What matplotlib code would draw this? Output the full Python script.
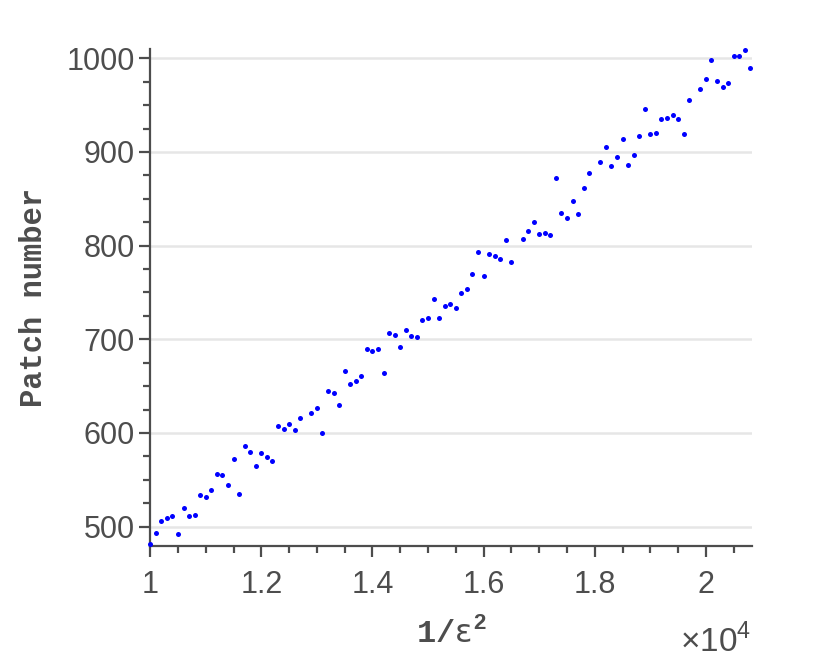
import numpy as np
import matplotlib
matplotlib.use("Agg")
from matplotlib import pyplot as plt
from matplotlib.ticker import MultipleLocator, FuncFormatter

# ---------------------------------------------------------------------------
# Data; x in units of 1/eps^2
# ---------------------------------------------------------------------------
inv_eps2 = [
    10000, 10100, 10200, 10300, 10400, 10500, 10600, 10700, 10800, 10900,
    11000, 11100, 11200, 11300, 11400, 11500, 11600, 11700, 11800, 11900,
    12000, 12100, 12200, 12300, 12400, 12500, 12600, 12700, 12900, 13000,
    13100, 13200, 13300, 13400, 13500, 13600, 13700, 13800, 13900, 14000,
    14100, 14200, 14300, 14400, 14500, 14600, 14700, 14800, 14900, 15000,
    15100, 15200, 15300, 15400, 15500, 15600, 15700, 15800, 15900, 16000,
    16100, 16200, 16300, 16400, 16500, 16700, 16800, 16900, 17000, 17100,
    17200, 17300, 17400, 17500, 17600, 17700, 17800, 17900, 18100, 18200,
    18300, 18400, 18500, 18600, 18700, 18800, 18900, 19000, 19100, 19200,
    19300, 19400, 19500, 19600, 19700, 19900, 20000, 20100, 20200, 20300,
    20400, 20500, 20600, 20700, 20800,
]
patch_number = [
    481, 493, 506, 509, 511, 492, 520, 511, 512, 534,
    532, 539, 556, 555, 544, 572, 535, 586, 580, 565,
    579, 574, 570, 607, 604, 610, 603, 616, 621, 627,
    600, 645, 643, 630, 666, 652, 655, 661, 690, 688,
    690, 664, 707, 705, 692, 710, 703, 702, 721, 723,
    743, 723, 735, 738, 733, 749, 754, 770, 793, 768,
    791, 789, 786, 806, 783, 807, 816, 825, 812, 813,
    811, 872, 835, 829, 848, 834, 861, 878, 889, 905,
    885, 895, 914, 886, 897, 917, 946, 919, 920, 935,
    936, 939, 935, 919, 955, 967, 978, 998, 976, 969,
    974, 1002, 1002, 1009, 990,
]

y_ticks = [500, 600, 700, 800, 900, 1000]
x_ticks = [10000, 12000, 14000, 16000, 18000, 20000]

# ---------------------------------------------------------------------------
# Style
# ---------------------------------------------------------------------------
AXIS_COLOR = "#4d4d4d"
GRID_COLOR = "#e6e6e6"

plt.rcParams["font.family"] = ["Liberation Sans", "DejaVu Sans"]
plt.rcParams["mathtext.fontset"] = "custom"
plt.rcParams["mathtext.rm"] = "Liberation Sans"
plt.rcParams["mathtext.it"] = "DejaVu Sans"
plt.rcParams["mathtext.bf"] = "Liberation Sans:bold"
plt.rcParams["mathtext.tt"] = "Liberation Mono:bold"

fig = plt.figure(figsize=(8.3, 6.67), dpi=100)
ax = fig.add_axes([0.181, 0.181, 0.725, 0.745])

ax.plot(inv_eps2, patch_number, linestyle="none", marker="o",
        markersize=3.6, color="#0000ff", markeredgewidth=0, clip_on=False,
        zorder=3)

ax.set_xlim(10000, 20830)
ax.set_ylim(479, 1009.5)

ax.set_yticks(y_ticks)
ax.set_xticks(x_ticks)
ax.yaxis.set_minor_locator(MultipleLocator(25))
ax.xaxis.set_minor_locator(MultipleLocator(500))
ax.xaxis.set_major_formatter(FuncFormatter(lambda v, _: f"{v / 1e4:g}"))

ax.grid(axis="y", color=GRID_COLOR, linewidth=1.8)
ax.set_axisbelow(True)

for side in ("top", "right"):
    ax.spines[side].set_visible(False)
for side in ("left", "bottom"):
    ax.spines[side].set_color(AXIS_COLOR)
    ax.spines[side].set_linewidth(1.6)

ax.tick_params(which="major", direction="out", length=8, width=1.6,
               color=AXIS_COLOR, labelcolor=AXIS_COLOR, labelsize=22, pad=3)
ax.tick_params(which="minor", direction="out", length=5, width=1.6,
               color=AXIS_COLOR)
ax.tick_params(axis="x", which="major", pad=9)

ax.set_ylabel("Patch number", family="Liberation Mono", weight="bold",
              fontsize=22, color=AXIS_COLOR, labelpad=13)
ax.set_xlabel(r"$\mathtt{1/}\epsilon^{\mathbf{2}}$", fontsize=23,
              color=AXIS_COLOR, labelpad=12)

fig.text(0.905, 0.012, r"$\times$10$^{4}$", ha="right", va="bottom",
         fontsize=24, color=AXIS_COLOR)

fig.savefig("out.png", dpi=100)
plt.close(fig)
